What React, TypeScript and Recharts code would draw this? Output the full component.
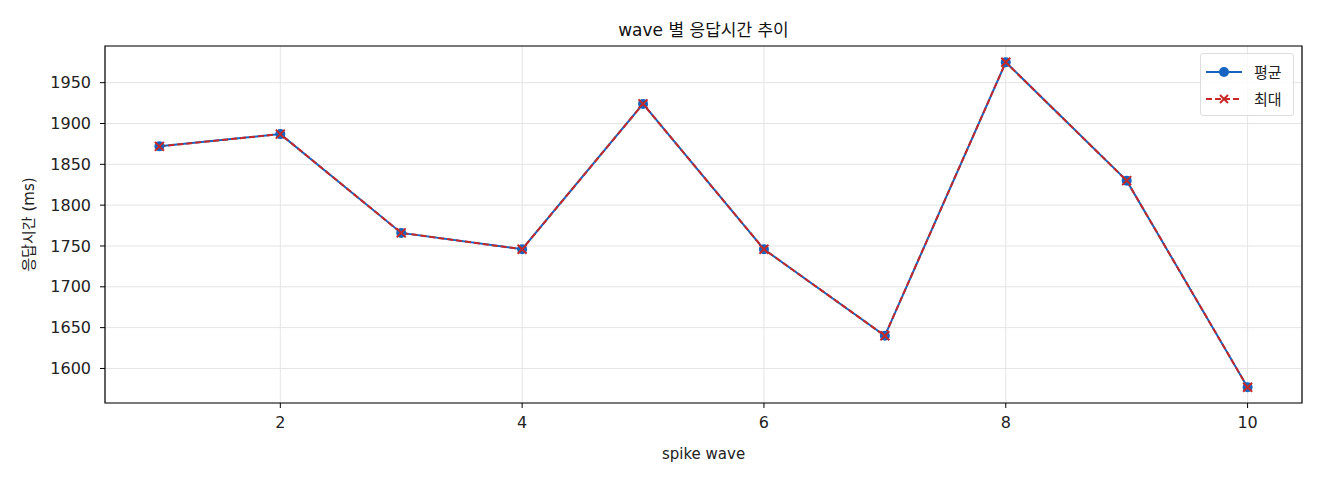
import { CartesianGrid, Line, LineChart, ReferenceArea, XAxis, YAxis } from "recharts";

// wave 별 응답시간 (ms) — 평균과 최대가 겹쳐 그려짐
const waves = [1, 2, 3, 4, 5, 6, 7, 8, 9, 10];
const avgMs = [1872, 1887, 1766, 1746, 1924, 1746, 1640, 1975, 1830, 1577];
const maxMs = [1872, 1887, 1766, 1746, 1924, 1746, 1640, 1975, 1830, 1577];
const xTicks = [2, 4, 6, 8, 10];
const yTicks = [1600, 1650, 1700, 1750, 1800, 1850, 1900, 1950];

const X_DOMAIN: [number, number] = [0.55, 10.45];
const Y_DOMAIN: [number, number] = [1557.7, 1994.9];

const BLUE = "#1565c0";
const RED = "#c62828";
const FONT = "'DejaVu Sans', 'Noto Sans CJK KR', sans-serif";
const W = 1320;
const H = 480;

const data = waves.map((w, i) => ({ wave: w, avg: avgMs[i], max: maxMs[i] }));

function CrossDot(props: any) {
  const { cx, cy } = props;
  if (cx == null || cy == null) return null;
  const s = 4.5;
  return (
    <g stroke={RED} strokeWidth={2}>
      <line x1={cx - s} y1={cy - s} x2={cx + s} y2={cy + s} />
      <line x1={cx - s} y1={cy + s} x2={cx + s} y2={cy - s} />
    </g>
  );
}

function LegendBox() {
  const row = (label: string, marker: React.ReactNode, dash?: string, color = BLUE) => (
    <div style={{ display: "flex", alignItems: "center", height: 27 }}>
      <svg width={40} height={14} style={{ marginRight: 10 }}>
        <line x1={2} y1={7} x2={38} y2={7} stroke={color} strokeWidth={2} strokeDasharray={dash} />
        {marker}
      </svg>
      <span>{label}</span>
    </div>
  );
  return (
    <div
      style={{
        position: "absolute",
        left: 1200,
        top: 53,
        width: 94,
        height: 63,
        boxSizing: "border-box",
        border: "1px solid #dddddd",
        borderRadius: 3,
        background: "rgba(255,255,255,0.8)",
        padding: "4px 0 0 3px",
        fontFamily: FONT,
        fontSize: 15,
        color: "#222",
      }}
    >
      {row("평균", <circle cx={20} cy={7} r={5} fill={BLUE} />)}
      {row(
        "최대",
        <g stroke={RED} strokeWidth={2}>
          <line x1={16} y1={3} x2={24} y2={11} />
          <line x1={16} y1={11} x2={24} y2={3} />
        </g>,
        "6 3",
        RED
      )}
    </div>
  );
}

export default function App() {
  return (
    <div style={{ position: "absolute", left: 0, top: 0, width: W, height: H, background: "#fff" }}>
      <div
        style={{
          position: "absolute",
          left: 105,
          width: 1197,
          top: 16,
          textAlign: "center",
          fontFamily: FONT,
          fontSize: 17,
          color: "#111",
        }}
      >
        wave 별 응답시간 추이
      </div>
      <LineChart
        width={W}
        height={H}
        data={data}
        margin={{ top: 46, right: 18, bottom: 47, left: 45 }}
        style={{ fontFamily: FONT }}
      >
        <CartesianGrid stroke="#e4e4e4" strokeWidth={1} />
        <XAxis
          dataKey="wave"
          type="number"
          domain={X_DOMAIN}
          ticks={xTicks}
          height={30}
          tickSize={5}
          tickMargin={9}
          tickLine={{ stroke: "#000" }}
          axisLine={false}
          tick={{ fill: "#222", fontSize: 16 }}
          allowDataOverflow
          label={{ value: "spike wave", position: "insideBottom", offset: -26, fill: "#222", fontSize: 15 }}
        />
        <YAxis
          type="number"
          domain={Y_DOMAIN}
          ticks={yTicks}
          width={60}
          tickSize={5}
          tickMargin={9}
          tickLine={{ stroke: "#000" }}
          axisLine={false}
          tick={{ fill: "#222", fontSize: 16 }}
          allowDataOverflow
          label={{
            value: "응답시간 (ms)",
            angle: -90,
            position: "insideLeft",
            offset: -16,
            style: { textAnchor: "middle" },
            fill: "#222",
            fontSize: 15,
          }}
        />
        <Line
          dataKey="avg"
          name="평균"
          stroke={BLUE}
          strokeWidth={2}
          dot={{ r: 5, fill: BLUE, stroke: BLUE, strokeWidth: 0 }}
          activeDot={false}
          isAnimationActive={false}
        />
        <Line
          dataKey="max"
          name="최대"
          stroke={RED}
          strokeWidth={2}
          strokeDasharray="6 3"
          dot={<CrossDot />}
          activeDot={false}
          isAnimationActive={false}
        />
        <ReferenceArea
          x1={X_DOMAIN[0]}
          x2={X_DOMAIN[1]}
          y1={Y_DOMAIN[0]}
          y2={Y_DOMAIN[1]}
          fill="none"
          stroke="#000"
          strokeOpacity={1}
          strokeWidth={1.2}
          fillOpacity={0}
        />
      </LineChart>
      <LegendBox />
    </div>
  );
}
